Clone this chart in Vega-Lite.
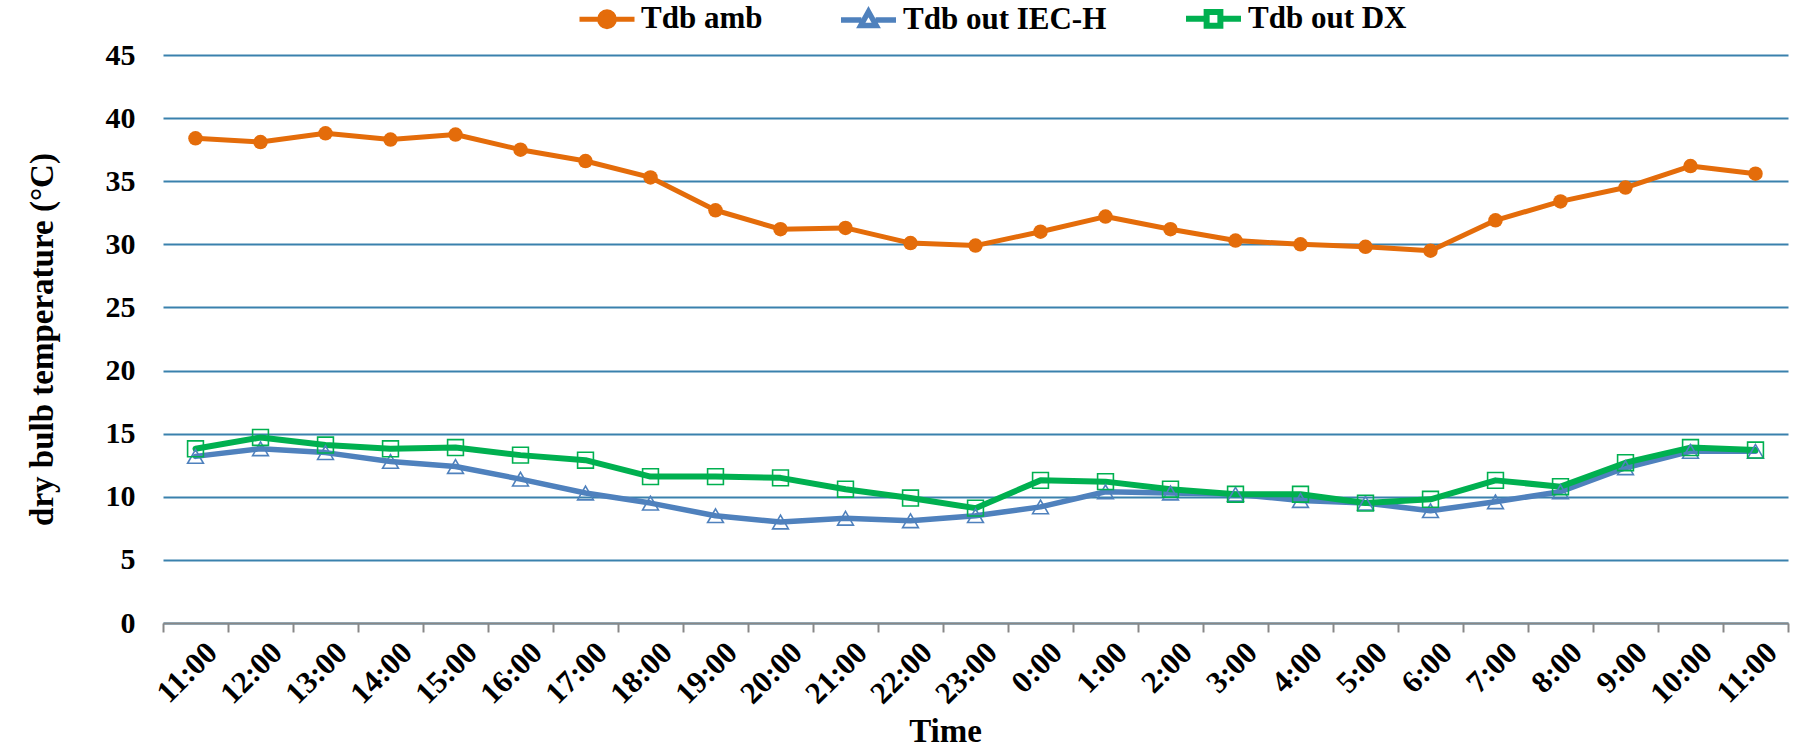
{
  "$schema": "https://vega.github.io/schema/vega-lite/v6.json",
  "width": 1625,
  "height": 568,
  "autosize": "none",
  "padding": {"left": 163, "top": 55, "right": 11, "bottom": 126},
  "background": "white",
  "config": {
    "view": {"stroke": null},
    "font": "Liberation Serif"
  },
  "data": {"values": [
    {"time":"11:00","series":"Tdb amb","temp":38.4},{"time":"12:00","series":"Tdb amb","temp":38.1},{"time":"13:00","series":"Tdb amb","temp":38.8},{"time":"14:00","series":"Tdb amb","temp":38.3},{"time":"15:00","series":"Tdb amb","temp":38.7},{"time":"16:00","series":"Tdb amb","temp":37.5},{"time":"17:00","series":"Tdb amb","temp":36.6},{"time":"18:00","series":"Tdb amb","temp":35.3},{"time":"19:00","series":"Tdb amb","temp":32.7},{"time":"20:00","series":"Tdb amb","temp":31.2},{"time":"21:00","series":"Tdb amb","temp":31.3},{"time":"22:00","series":"Tdb amb","temp":30.1},{"time":"23:00","series":"Tdb amb","temp":29.9},{"time":"0:00","series":"Tdb amb","temp":31.0},{"time":"1:00","series":"Tdb amb","temp":32.2},{"time":"2:00","series":"Tdb amb","temp":31.2},{"time":"3:00","series":"Tdb amb","temp":30.3},{"time":"4:00","series":"Tdb amb","temp":30.0},{"time":"5:00","series":"Tdb amb","temp":29.8},{"time":"6:00","series":"Tdb amb","temp":29.5},{"time":"7:00","series":"Tdb amb","temp":31.9},{"time":"8:00","series":"Tdb amb","temp":33.4},{"time":"9:00","series":"Tdb amb","temp":34.5},{"time":"10:00","series":"Tdb amb","temp":36.2},{"time":"11:00 ","series":"Tdb amb","temp":35.6},
    {"time":"11:00","series":"Tdb out IEC-H","temp":13.2},{"time":"12:00","series":"Tdb out IEC-H","temp":13.8},{"time":"13:00","series":"Tdb out IEC-H","temp":13.5},{"time":"14:00","series":"Tdb out IEC-H","temp":12.8},{"time":"15:00","series":"Tdb out IEC-H","temp":12.4},{"time":"16:00","series":"Tdb out IEC-H","temp":11.4},{"time":"17:00","series":"Tdb out IEC-H","temp":10.3},{"time":"18:00","series":"Tdb out IEC-H","temp":9.5},{"time":"19:00","series":"Tdb out IEC-H","temp":8.5},{"time":"20:00","series":"Tdb out IEC-H","temp":8.0},{"time":"21:00","series":"Tdb out IEC-H","temp":8.3},{"time":"22:00","series":"Tdb out IEC-H","temp":8.1},{"time":"23:00","series":"Tdb out IEC-H","temp":8.5},{"time":"0:00","series":"Tdb out IEC-H","temp":9.2},{"time":"1:00","series":"Tdb out IEC-H","temp":10.4},{"time":"2:00","series":"Tdb out IEC-H","temp":10.3},{"time":"3:00","series":"Tdb out IEC-H","temp":10.2},{"time":"4:00","series":"Tdb out IEC-H","temp":9.7},{"time":"5:00","series":"Tdb out IEC-H","temp":9.5},{"time":"6:00","series":"Tdb out IEC-H","temp":8.9},{"time":"7:00","series":"Tdb out IEC-H","temp":9.6},{"time":"8:00","series":"Tdb out IEC-H","temp":10.4},{"time":"9:00","series":"Tdb out IEC-H","temp":12.3},{"time":"10:00","series":"Tdb out IEC-H","temp":13.6},{"time":"11:00 ","series":"Tdb out IEC-H","temp":13.6},
    {"time":"11:00","series":"Tdb out DX","temp":13.8},{"time":"12:00","series":"Tdb out DX","temp":14.7},{"time":"13:00","series":"Tdb out DX","temp":14.1},{"time":"14:00","series":"Tdb out DX","temp":13.8},{"time":"15:00","series":"Tdb out DX","temp":13.9},{"time":"16:00","series":"Tdb out DX","temp":13.3},{"time":"17:00","series":"Tdb out DX","temp":12.9},{"time":"18:00","series":"Tdb out DX","temp":11.6},{"time":"19:00","series":"Tdb out DX","temp":11.6},{"time":"20:00","series":"Tdb out DX","temp":11.5},{"time":"21:00","series":"Tdb out DX","temp":10.6},{"time":"22:00","series":"Tdb out DX","temp":9.9},{"time":"23:00","series":"Tdb out DX","temp":9.1},{"time":"0:00","series":"Tdb out DX","temp":11.3},{"time":"1:00","series":"Tdb out DX","temp":11.2},{"time":"2:00","series":"Tdb out DX","temp":10.6},{"time":"3:00","series":"Tdb out DX","temp":10.2},{"time":"4:00","series":"Tdb out DX","temp":10.2},{"time":"5:00","series":"Tdb out DX","temp":9.5},{"time":"6:00","series":"Tdb out DX","temp":9.8},{"time":"7:00","series":"Tdb out DX","temp":11.3},{"time":"8:00","series":"Tdb out DX","temp":10.8},{"time":"9:00","series":"Tdb out DX","temp":12.7},{"time":"10:00","series":"Tdb out DX","temp":13.9},{"time":"11:00 ","series":"Tdb out DX","temp":13.7}
  ]},
  "encoding": {
    "x": {
      "field": "time", "type": "nominal", "sort": null, "bandPosition": 0.5,
      "scale": {"type": "band", "paddingInner": 0, "paddingOuter": 0},
      "axis": {
        "title": "Time", "titleFontSize": 33, "titleFontWeight": "bold", "titleColor": "black",
        "titleX": 782, "titleY": 118, "titleBaseline": "alphabetic",
        "labelExpr": "trim(datum.label)",
        "labelAngle": -45, "labelFontSize": 31, "labelFontWeight": "bold", "labelColor": "black",
        "labelPadding": 5, "labelOffset": 6,
        "tickBand": "extent", "ticks": true, "tickSize": 9, "tickWidth": 2, "tickColor": "#888888",
        "domainColor": "#888888", "domainWidth": 2, "grid": false
      }
    },
    "y": {
      "field": "temp", "type": "quantitative",
      "scale": {"domain": [0, 45], "nice": false, "zero": true},
      "axis": {
        "title": "dry bulb temperature (°C)", "titleFontSize": 33, "titleFontWeight": "bold", "titleColor": "black",
        "titleX": -121, "titleY": 284, "titleBaseline": "middle", "titleAngle": -90,
        "values": [0, 5, 10, 15, 20, 25, 30, 35, 40, 45],
        "labelFontSize": 30, "labelFontWeight": "bold", "labelColor": "black", "labelPadding": 28,
        "ticks": false, "domain": false,
        "grid": true, "gridColor": "#3A81AD", "gridWidth": 2
      }
    }
  },
  "layer": [
    {
      "mark": {"type": "line", "strokeJoin": "round", "strokeCap": "round"},
      "encoding": {
        "color": {
          "field": "series", "type": "nominal",
          "scale": {"domain": ["Tdb amb", "Tdb out IEC-H", "Tdb out DX"], "range": ["#E46C0A", "#4F81BD", "#00B050"]},
          "legend": {
            "title": null, "orient": "none", "direction": "horizontal",
            "legendX": 414, "legendY": -67,
            "labelFontSize": 31, "labelFontWeight": "bold", "labelColor": "black", "labelOffset": 4, "labelLimit": 500,
            "symbolSize": 3025, "symbolStrokeWidth": 4, "columnPadding": 67,
            "encode": {"symbols": {"update": {
              "shape": {"signal": "datum.value === 'Tdb amb' ? 'M-1,0L1,0M0.27,0A0.27,0.27,0,1,1,-0.27,0A0.27,0.27,0,1,1,0.27,0Z' : datum.value === 'Tdb out IEC-H' ? 'M-1,0L-0.26,0M0.26,0L1,0M0,-0.3L0.28,0.2L-0.28,0.2Z' : 'M-1,0L-0.25,0M0.25,0L1,0M-0.25,-0.25L0.25,-0.25L0.25,0.25L-0.25,0.25Z'"},
              "fillOpacity": {"signal": "datum.value === 'Tdb amb' ? 1 : 0"},
              "strokeWidth": {"value": 4}
            }}}
          }
        },
        "strokeWidth": {
          "field": "series", "type": "nominal",
          "scale": {"domain": ["Tdb amb", "Tdb out IEC-H", "Tdb out DX"], "range": [5, 6, 6]},
          "legend": null
        }
      }
    },
    {
      "transform": [{"filter": "datum.series === 'Tdb amb'"}],
      "mark": {"type": "point", "shape": "circle", "filled": true, "size": 210, "opacity": 1},
      "encoding": {
        "color": {"field": "series", "type": "nominal", "legend": null}
      }
    },
    {
      "transform": [{"filter": "datum.series !== 'Tdb amb'"}],
      "mark": {"type": "point", "filled": false, "size": 250, "strokeWidth": 1.6, "opacity": 1},
      "encoding": {
        "color": {"field": "series", "type": "nominal", "legend": null},
        "shape": {
          "field": "series", "type": "nominal",
          "scale": {"domain": ["Tdb out IEC-H", "Tdb out DX"], "range": ["triangle-up", "square"]},
          "legend": null
        }
      }
    }
  ]
}
